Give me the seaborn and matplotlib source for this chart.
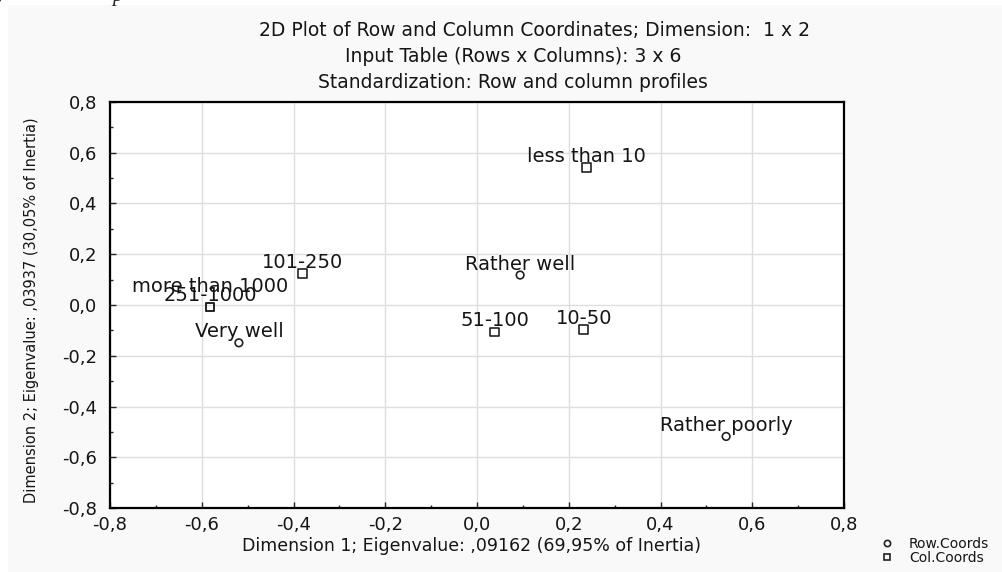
import matplotlib
matplotlib.use("Agg")
import matplotlib.pyplot as plt
import matplotlib.patches as mpatches
from matplotlib.lines import Line2D
from matplotlib.ticker import MultipleLocator, FuncFormatter
import seaborn as sns
import pandas as pd

# ---- data ----
row_labels = ["Very well", "Rather well", "Rather poorly"]
row_x = [-0.519, 0.094, 0.543]
row_y = [-0.149, 0.118, -0.518]

col_labels = ["less than 10", "10-50", "51-100", "101-250", "251-1000", "more than 1000"]
col_x = [0.238, 0.233, 0.039, -0.381, -0.582, -0.582]
col_y = [0.541, -0.098, -0.106, 0.125, -0.008, -0.008]

titles = ["2D Plot of Row and Column Coordinates; Dimension:  1 x 2",
          "Input Table (Rows x Columns): 3 x 6",
          "Standardization: Row and column profiles"]
xlabel = "Dimension 1; Eigenvalue: ,09162 (69,95% of Inertia)"
ylabel = "Dimension 2; Eigenvalue: ,03937 (30,05% of Inertia)"
legend_labels = ["Row.Coords", "Col.Coords"]

sns.set_style("white")
plt.rcParams["font.family"] = ["DejaVu Sans"]

W, H = 1003, 572
fig = plt.figure(figsize=(W / 100, H / 100), dpi=100, facecolor="white")

# light grey graph window
fig.patches.append(mpatches.Rectangle((8 / W, 0), 1, 1 - 5 / H, transform=fig.transFigure,
                                      facecolor="#f9f9f9", edgecolor="none", zorder=-10))
# cut-off caption fragment at the very top
fig.text(-0.004, 1 - 1 / H, "y", fontsize=15, style="italic", family="Liberation Serif",
         va="baseline", ha="left")
fig.text(112 / W, 1 - 1 / H, "p", fontsize=15, style="italic", family="Liberation Serif",
         va="baseline", ha="left")

ax = fig.add_axes([110 / W, 1 - 508 / H, (844 - 110) / W, (508 - 102) / H])
ax.set_facecolor("white")

rows = pd.DataFrame({"x": row_x, "y": row_y, "label": row_labels})
cols = pd.DataFrame({"x": col_x, "y": col_y, "label": col_labels})

sns.scatterplot(data=rows, x="x", y="y", marker="o", s=30, facecolor="none",
                edgecolor="#222222", linewidth=1.2, ax=ax, zorder=3, legend=False)
sns.scatterplot(data=cols, x="x", y="y", marker="s", s=40, facecolor="none",
                edgecolor="#222222", linewidth=1.2, ax=ax, zorder=3, legend=False)

seen = {}
for df in (rows, cols):
    for _, r in df.iterrows():
        key = (round(r["x"], 2), round(r["y"], 2))
        n = seen.get(key, 0)
        seen[key] = n + 1
        ax.annotate(r["label"], (r["x"], r["y"]), xytext=(0, 4 + 7 * n),
                    textcoords="offset points", ha="center", va="baseline",
                    fontsize=14, color="#151515", zorder=4)

ax.set_xlim(-0.8, 0.8)
ax.set_ylim(-0.8, 0.8)
ax.xaxis.set_major_locator(MultipleLocator(0.2))
ax.yaxis.set_major_locator(MultipleLocator(0.2))
ax.xaxis.set_minor_locator(MultipleLocator(0.1))
ax.yaxis.set_minor_locator(MultipleLocator(0.1))
fmt = FuncFormatter(lambda v, p: f"{v:.1f}".replace(".", ",").replace("-0,0", "0,0"))
ax.xaxis.set_major_formatter(fmt)
ax.yaxis.set_major_formatter(fmt)
ax.tick_params(which="major", direction="in", length=4, width=1, labelsize=13,
               labelcolor="#151515", bottom=True, left=True, top=False, right=False)
ax.tick_params(axis="x", which="major", pad=6)
ax.tick_params(axis="y", which="major", pad=9)
ax.tick_params(which="minor", direction="in", length=2.5, width=1,
               bottom=True, left=True, top=False, right=False)
ax.grid(True, which="major", color="#dedede", linewidth=1)
for s in ax.spines.values():
    s.set_visible(True)
    s.set_color("black")
    s.set_linewidth(1.6)

ax.set_xlabel("")
ax.set_ylabel("")
fig.text(472 / W, 1 - 546 / H, xlabel, ha="center", va="center", fontsize=12.5,
         color="#151515")
fig.text(32 / W, 1 - 310 / H, ylabel, ha="center", va="center", rotation=90,
         fontsize=10.5, color="#151515")

title_x = [535, 513, 513]
for i, t in enumerate(titles):
    fig.text(title_x[i] / W, 1 - (31 + 26 * i) / H, t, ha="center", va="center",
             fontsize=13.5, color="#151515")

handles = [Line2D([], [], marker="o", linestyle="none", markerfacecolor="none",
                  markeredgecolor="#222222", markeredgewidth=1.2, markersize=4.5),
           Line2D([], [], marker="s", linestyle="none", markerfacecolor="none",
                  markeredgecolor="#222222", markeredgewidth=1.2, markersize=4.5)]
fig.legend(handles, legend_labels, loc="upper left", bbox_to_anchor=(873 / W, 1 - 530 / H),
           frameon=False, fontsize=10, handlelength=1, handletextpad=1.1,
           labelspacing=0.02, borderpad=0, labelcolor="#151515")

fig.savefig("out.png", dpi=100, facecolor=fig.get_facecolor())
